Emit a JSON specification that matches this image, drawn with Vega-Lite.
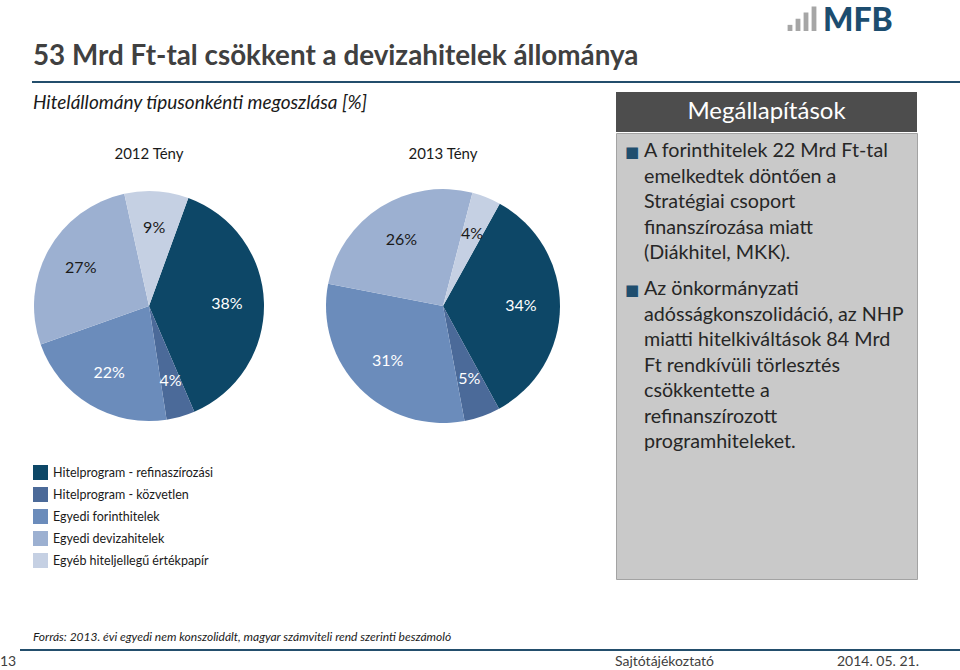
{
  "$schema": "https://vega.github.io/schema/vega-lite/v6.json",
  "padding": 0,
  "background": "white",
  "spacing": 0,
  "config": {
    "font": "Lato",
    "view": {"stroke": null},
    "text": {"font": "Lato"}
  },
  "datasets": {
    "p2012": [
      {"kat": "Hitelprogram - refinaszírozási", "i": 1, "v": 0.38},
      {"kat": "Hitelprogram - közvetlen", "i": 2, "v": 0.04},
      {"kat": "Egyedi forinthitelek", "i": 3, "v": 0.22},
      {"kat": "Egyedi devizahitelek", "i": 4, "v": 0.27},
      {"kat": "Egyéb hiteljellegű értékpapír", "i": 5, "v": 0.09}
    ],
    "p2013": [
      {"kat": "Hitelprogram - refinaszírozási", "i": 1, "v": 0.34},
      {"kat": "Hitelprogram - közvetlen", "i": 2, "v": 0.05},
      {"kat": "Egyedi forinthitelek", "i": 3, "v": 0.31},
      {"kat": "Egyedi devizahitelek", "i": 4, "v": 0.26},
      {"kat": "Egyéb hiteljellegű értékpapír", "i": 5, "v": 0.04}
    ]
  },
  "vconcat": [
    {
      "spacing": 0,
      "hconcat": [
        {"width": 33, "height": 81, "data": {"values": []}, "mark": "point"},
        {
          "spacing": 0,
          "vconcat": [
            {"width": 753, "height": 33, "data": {"values": []}, "mark": "point"},
            {
              "width": 753, "height": 48,
              "data": {"values": [{"t": "53 Mrd Ft-tal csökkent a devizahitelek állománya"}]},
              "mark": {"type": "text", "align": "left", "baseline": "middle", "fontSize": 27.8, "fontWeight": "bold", "color": "#404040"},
              "encoding": {
                "x": {"datum": 0, "type": "quantitative", "scale": {"domain": [0, 1]}, "axis": null},
                "text": {"field": "t"}
              }
            }
          ]
        },
        {
          "spacing": 0,
          "vconcat": [
            {"width": 120, "height": 4, "data": {"values": []}, "mark": "point"},
            {
              "spacing": 5,
              "hconcat": [
                {
                  "width": 32, "height": 27,
                  "data": {"values": [{"k": "a", "h": 1}, {"k": "b", "h": 2}, {"k": "c", "h": 3}, {"k": "d", "h": 4}]},
                  "mark": {"type": "bar", "color": "#a6a6a6"},
                  "encoding": {
                    "x": {"field": "k", "type": "nominal", "scale": {"paddingInner": 0.4, "paddingOuter": 0.2}, "axis": null},
                    "y": {"field": "h", "type": "quantitative", "scale": {"domain": [0, 4.4]}, "axis": null}
                  }
                },
                {
                  "width": 88, "height": 27,
                  "data": {"values": [{"t": "MFB"}]},
                  "mark": {"type": "text", "align": "left", "baseline": "alphabetic", "fontSize": 32, "fontWeight": 900, "color": "#1c4d6f"},
                  "encoding": {
                    "x": {"datum": 0, "type": "quantitative", "scale": {"domain": [0, 1]}, "axis": null},
                    "y": {"datum": 0, "type": "quantitative", "scale": {"domain": [0, 1]}, "axis": null},
                    "text": {"field": "t"}
                  }
                }
              ]
            }
          ]
        }
      ]
    },
    {
      "spacing": 0,
      "hconcat": [
        {"width": 32, "height": 2, "data": {"values": []}, "mark": "point"},
        {"width": 928, "height": 2, "view": {"fill": "#234e6c", "stroke": null}, "data": {"values": []}, "mark": "point"}
      ]
    },
    {
      "spacing": 27,
      "hconcat": [
        {
          "spacing": 0,
          "vconcat": [
            {
              "spacing": 0,
              "hconcat": [
                {"width": 33, "height": 40, "data": {"values": []}, "mark": "point"},
                {
                  "width": 555, "height": 40,
                  "data": {"values": [{"t": "Hitelállomány típusonkénti  megoszlása [%]"}]},
                  "mark": {"type": "text", "align": "left", "baseline": "middle", "fontSize": 19, "fontStyle": "italic", "color": "#1a1a1a"},
                  "encoding": {
                    "x": {"datum": 0, "type": "quantitative", "scale": {"domain": [0, 1]}, "axis": null},
                    "text": {"field": "t"}
                  }
                }
              ]
            },
            {
              "spacing": 0,
              "hconcat": [
                {
                  "width": 298, "height": 62,
                  "data": {"values": [{"t": "2012 Tény"}]},
                  "mark": {"type": "text", "baseline": "middle", "fontSize": 15, "color": "#1a1a1a"},
                  "encoding": {"text": {"field": "t"}}
                },
                {
                  "width": 290, "height": 62,
                  "data": {"values": [{"t": "2013 Tény"}]},
                  "mark": {"type": "text", "baseline": "middle", "fontSize": 15, "color": "#1a1a1a"},
                  "encoding": {"text": {"field": "t"}}
                }
              ]
            },
            {
              "spacing": 0,
              "hconcat": [
                {
                  "width": 298,
                  "height": 242,
                  "data": {"name": "p2012"},
                  "encoding": {
                    "theta": {"field": "v", "type": "quantitative", "stack": true, "scale": {"range": [0.349, 6.632]}},
                    "order": {"field": "i", "type": "quantitative"}
                  },
                  "layer": [
                    {
                      "mark": {"type": "arc", "outerRadius": 115},
                      "encoding": {
                        "color": {
                          "field": "kat", "type": "nominal",
                          "scale": {
                            "domain": ["Hitelprogram - refinaszírozási", "Hitelprogram - közvetlen", "Egyedi forinthitelek", "Egyedi devizahitelek", "Egyéb hiteljellegű értékpapír"],
                            "range": ["#0d4767", "#4b6a99", "#6b8cbb", "#9cb0d1", "#c5d0e3"]
                          },
                          "legend": {"orient": "none", "legendX": 33, "legendY": 465, "title": null, "symbolType": "square", "symbolSize": 225, "symbolStrokeWidth": 0, "symbolOpacity": 1, "labelFontSize": 12.5, "labelColor": "#1a1a1a", "labelFont": "Lato", "labelLimit": 400, "rowPadding": 7, "labelOffset": 5}
                        }
                      }
                    },
                    {
                      "mark": {"type": "text", "radius": 78, "fontSize": 16},
                      "encoding": {
                        "detail": {"field": "kat"},
                        "text": {"field": "v", "type": "quantitative", "format": ".0%"},
                        "color": {"condition": {"test": "datum.kat === 'Egyedi devizahitelek' || datum.kat === 'Egyéb hiteljellegű értékpapír'", "value": "#1a1a1a"}, "value": "white"}
                      }
                    }
                  ]
                },
                {
                  "width": 290,
                  "height": 242,
                  "data": {"name": "p2013"},
                  "encoding": {
                    "theta": {"field": "v", "type": "quantitative", "stack": true, "scale": {"range": [0.506, 6.789]}},
                    "order": {"field": "i", "type": "quantitative"}
                  },
                  "layer": [
                    {
                      "mark": {"type": "arc", "outerRadius": 117},
                      "encoding": {"color": {"field": "kat", "type": "nominal"}}
                    },
                    {
                      "mark": {"type": "text", "radius": 78, "fontSize": 16},
                      "encoding": {
                        "detail": {"field": "kat"},
                        "text": {"field": "v", "type": "quantitative", "format": ".0%"},
                        "color": {"condition": {"test": "datum.kat === 'Egyedi devizahitelek' || datum.kat === 'Egyéb hiteljellegű értékpapír'", "value": "#1a1a1a"}, "value": "white"}
                      }
                    }
                  ]
                }
              ]
            },
            {"width": 588, "height": 199, "data": {"values": []}, "mark": "point"},
            {
              "spacing": 0,
              "hconcat": [
                {"width": 33, "height": 21, "data": {"values": []}, "mark": "point"},
                {
                  "width": 555, "height": 21,
                  "data": {"values": [{"t": "Forrás: 2013. évi egyedi nem konszolidált, magyar számviteli rend szerinti beszámoló"}]},
                  "mark": {"type": "text", "align": "left", "baseline": "middle", "fontSize": 12, "fontStyle": "italic", "color": "#1a1a1a"},
                  "encoding": {
                    "x": {"datum": 0, "type": "quantitative", "scale": {"domain": [0, 1]}, "axis": null},
                    "text": {"field": "t"}
                  }
                }
              ]
            }
          ]
        },
        {
          "spacing": 0,
          "vconcat": [
            {"width": 301, "height": 9, "data": {"values": []}, "mark": "point"},
            {
              "width": 301, "height": 40,
              "view": {"fill": "#4d4d4d", "stroke": null},
              "data": {"values": [{"t": "Megállapítások"}]},
              "mark": {"type": "text", "fontSize": 24, "color": "white", "baseline": "middle"},
              "encoding": {"text": {"field": "t"}}
            },
            {
              "width": 301, "height": 446,
              "view": {"fill": "#c9c9c9", "stroke": "#a3a3a3", "strokeWidth": 1},
              "data": {"values": [
                {"b": "1", "t": "A forinthitelek 22 Mrd Ft-tal\nemelkedtek döntően a\nStratégiai csoport\nfinanszírozása miatt\n(Diákhitel, MKK)."},
                {"b": "2", "t": "Az önkormányzati\nadósságkonszolidáció, az NHP\nmiatti hitelkiváltások 84 Mrd\nFt rendkívüli törlesztés\ncsökkentette a\nrefinanszírozott\nprogramhiteleket."}
              ]},
              "encoding": {
                "y": {"field": "b", "type": "ordinal", "scale": {"type": "point", "range": [24, 162], "padding": 0}, "axis": null}
              },
              "layer": [
                {
                  "mark": {"type": "text", "text": "■", "font": "DejaVu Sans", "fontSize": 15, "color": "#1f4e6e", "align": "left", "baseline": "alphabetic"},
                  "encoding": {"x": {"datum": "bullet", "type": "ordinal", "scale": {"type": "point", "domain": ["bullet", "text"], "range": [9, 28], "padding": 0}, "axis": null}}
                },
                {
                  "mark": {"type": "text", "fontSize": 19.7, "color": "#262626", "align": "left", "baseline": "alphabetic", "lineBreak": "\n", "lineHeight": 25.5},
                  "encoding": {"x": {"datum": "text", "type": "ordinal"}, "text": {"field": "t"}}
                }
              ]
            },
            {"width": 301, "height": 69, "data": {"values": []}, "mark": "point"}
          ]
        }
      ]
    },
    {
      "spacing": 0,
      "hconcat": [
        {"width": 20, "height": 2, "data": {"values": []}, "mark": "point"},
        {"width": 940, "height": 2, "view": {"fill": "#234e6c", "stroke": null}, "data": {"values": []}, "mark": "point"}
      ]
    },
    {
      "spacing": 0,
      "hconcat": [
        {
          "width": 18, "height": 21,
          "data": {"values": [{"t": "13"}]},
          "mark": {"type": "text", "align": "left", "baseline": "middle", "fontSize": 14, "color": "#404040"},
          "encoding": {
            "x": {"datum": 0, "type": "quantitative", "scale": {"domain": [0, 1]}, "axis": null},
            "text": {"field": "t"}
          }
        },
        {"width": 582, "height": 21, "data": {"values": []}, "mark": "point"},
        {"width": 129, "height": 21, "data": {"values": [{"t": "Sajtótájékoztató"}]}, "mark": {"type": "text", "baseline": "middle", "fontSize": 14, "color": "#404040"}, "encoding": {"text": {"field": "t"}}},
        {"width": 99, "height": 21, "data": {"values": []}, "mark": "point"},
        {"width": 100, "height": 21, "data": {"values": [{"t": "2014. 05. 21."}]}, "mark": {"type": "text", "baseline": "middle", "fontSize": 14, "color": "#404040"}, "encoding": {"text": {"field": "t"}}}
      ]
    }
  ]
}
